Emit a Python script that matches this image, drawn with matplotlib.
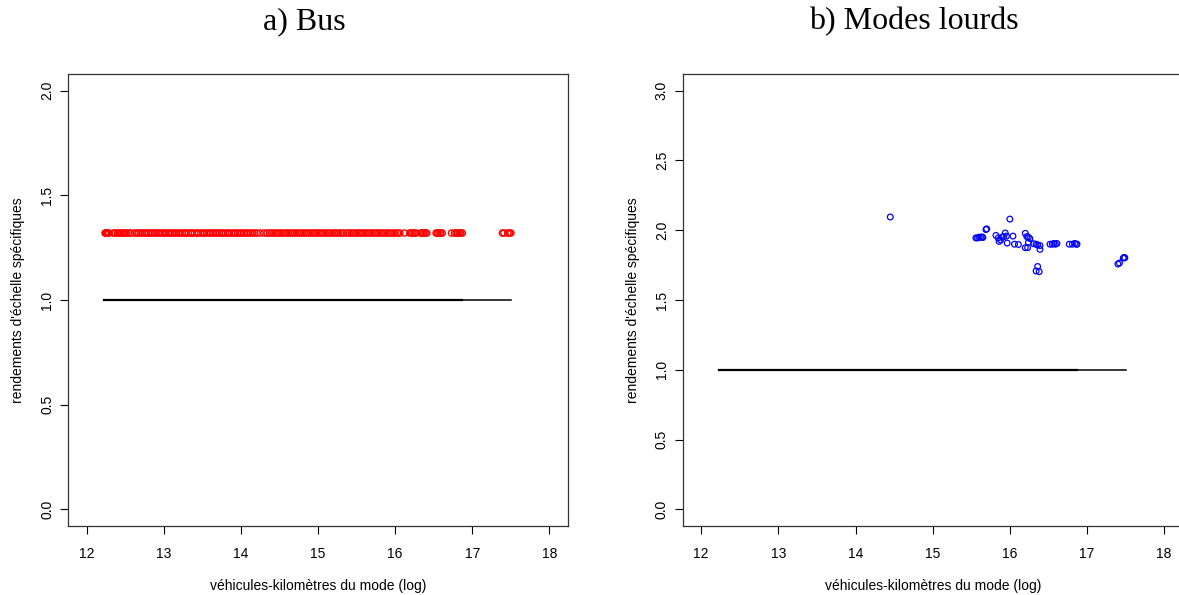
import numpy as np
import matplotlib
matplotlib.use('Agg')
from matplotlib import pyplot as plt

# Data
bus_x = [12.24, 12.25, 12.26, 12.27, 12.28, 12.29, 12.35, 12.37, 12.40, 12.42, 12.44, 12.46,
         12.48, 12.50, 12.52, 12.55, 12.57, 12.62, 12.65, 12.67, 12.70, 12.72, 12.75, 12.77,
         12.80, 12.83, 12.85, 12.88, 12.90, 12.93, 12.95, 12.98, 13.01, 13.03, 13.06, 13.08,
         13.11, 13.14, 13.16, 13.19, 13.21, 13.24, 13.27, 13.29, 13.32, 13.35, 13.37, 13.40,
         13.43, 13.45, 13.48, 13.51, 13.53, 13.56, 13.59, 13.61, 13.64, 13.67, 13.69, 13.72,
         13.75, 13.77, 13.80, 13.83, 13.85, 13.88, 13.91, 13.93, 13.96, 13.99, 14.01, 14.04,
         14.07, 14.09, 14.12, 14.15, 14.18, 14.21, 14.25, 14.30, 14.34, 14.37, 14.40, 14.43,
         14.46, 14.49, 14.52, 14.55, 14.58, 14.61, 14.64, 14.67, 14.70, 14.73, 14.76, 14.79,
         14.82, 14.85, 14.88, 14.91, 14.94, 14.97, 15.00, 15.03, 15.06, 15.09, 15.12, 15.15,
         15.18, 15.21, 15.24, 15.27, 15.30, 15.33, 15.37, 15.40, 15.43, 15.46, 15.49, 15.52,
         15.55, 15.58, 15.61, 15.64, 15.67, 15.70, 15.73, 15.76, 15.79, 15.82, 15.85, 15.88,
         15.91, 15.94, 15.97, 16.00, 16.03, 16.06, 16.12, 16.19, 16.21, 16.23, 16.25, 16.27,
         16.33, 16.35, 16.37, 16.39, 16.41, 16.53, 16.55, 16.57, 16.59, 16.61, 16.73, 16.77,
         16.79, 16.81, 16.83, 16.85, 16.87, 17.39, 17.41, 17.46, 17.48, 17.50]
bus_rendement = 1.32

lourds_x = [14.45, 16.00, 15.69, 15.70, 15.56, 15.58, 15.60, 15.62, 15.64, 15.65,
            15.82, 15.85, 15.86, 15.88, 15.90, 15.92, 15.94, 15.955, 15.965, 16.04,
            16.06, 16.11, 16.20, 16.22, 16.24, 16.26, 16.20, 16.23, 16.24, 16.31,
            16.34, 16.36, 16.39, 16.39, 16.36, 16.34, 16.38, 16.52, 16.55, 16.57,
            16.59, 16.61, 16.77, 16.81, 16.84, 16.86, 16.87, 17.40, 17.42, 17.47,
            17.48, 17.49]
lourds_y = [2.095, 2.08, 2.005, 2.01, 1.945, 1.945, 1.95, 1.95, 1.952, 1.948,
            1.963, 1.945, 1.92, 1.93, 1.95, 1.955, 1.98, 1.958, 1.908, 1.958,
            1.90, 1.898, 1.978, 1.955, 1.95, 1.94, 1.875, 1.875, 1.913, 1.903,
            1.90, 1.895, 1.89, 1.863, 1.74, 1.708, 1.703, 1.90, 1.90, 1.905,
            1.90, 1.905, 1.90, 1.90, 1.905, 1.90, 1.90, 1.758, 1.765, 1.80,
            1.805, 1.803]

# fitted reference line (constant returns = 1)
fit_x_main = [12.23, 16.87]
fit_x_tail = [16.87, 17.50]
fit_y = [1.0, 1.0]

xticks = [12, 13, 14, 15, 16, 17, 18]
bus_yticks = [0.0, 0.5, 1.0, 1.5, 2.0]
lourds_yticks = [0.0, 0.5, 1.0, 1.5, 2.0, 2.5, 3.0]

plt.rcParams['font.family'] = ['Liberation Sans', 'DejaVu Sans']

W, H = 1179, 595
fig = plt.figure(figsize=(W / 100, H / 100), dpi=100)


def setup(ax, yticks, ymax):
    ax.set_xlim(11.76, 18.24)
    ax.set_ylim(-0.04 * ymax, 1.04 * ymax)
    ax.set_xticks(xticks)
    ax.set_xticklabels([str(t) for t in xticks])
    ax.set_yticks(yticks)
    ax.set_yticklabels(['%.1f' % t for t in yticks])
    plt.setp(ax.get_yticklabels(), rotation=90, va='center')
    ax.tick_params(axis='both', labelsize=10, length=6, width=0.8, color='black')
    ax.tick_params(axis='x', pad=9)
    ax.tick_params(axis='y', pad=4)
    for s in ax.spines.values():
        s.set_linewidth(0.9)
        s.set_color('#333333')
    ax.set_xlabel('véhicules-kilomètres du mode (log)', fontsize=10, labelpad=13)
    ax.set_ylabel("rendements d'échelle spécifiques", fontsize=10, labelpad=11)


# a) Bus
ax1 = fig.add_axes([68 / W, 69 / H, 500 / W, 452 / H])
ax1.scatter(bus_x, np.full(len(bus_x), bus_rendement), s=20, facecolors='none',
            edgecolors='#ff0000', linewidths=1.0, zorder=3)
ax1.plot(fit_x_main, fit_y, color='black', lw=1.6)
ax1.plot(fit_x_tail, fit_y, color='black', lw=1.1)
setup(ax1, bus_yticks, 2.0)

# b) Modes lourds
ax2 = fig.add_axes([682.7 / W, 69 / H, 500 / W, 452 / H])
ax2.scatter(lourds_x, lourds_y, s=17, facecolors='none',
            edgecolors='#0000ff', linewidths=0.9, zorder=3)
ax2.plot(fit_x_main, fit_y, color='black', lw=1.6)
ax2.plot(fit_x_tail, fit_y, color='black', lw=1.1)
setup(ax2, lourds_yticks, 3.0)

fig.text(304 / W, 1 - 22 / H, 'a) Bus', family='Liberation Serif', fontsize=23,
         ha='center', va='center')
fig.text(914 / W, 1 - 22 / H, 'b) Modes lourds', family='Liberation Serif', fontsize=23,
         ha='center', va='center')

fig.savefig('out.png', dpi=100)
